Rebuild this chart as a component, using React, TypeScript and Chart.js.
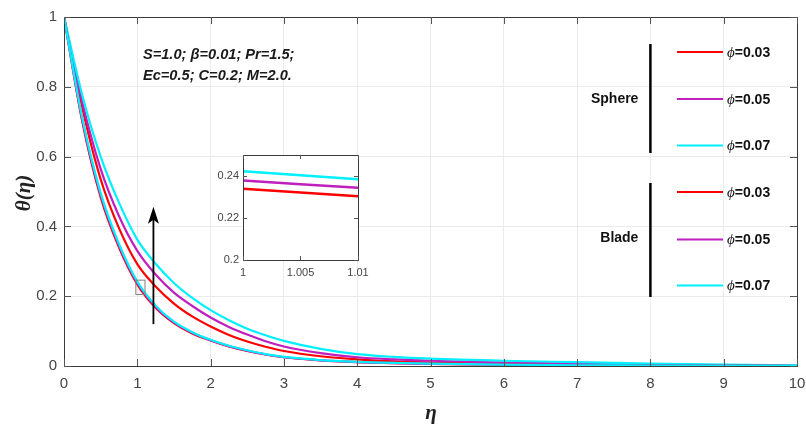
import React, { useEffect, useRef } from "react";
import { Chart, registerables } from "chart.js";
Chart.register(...registerables);

// ---------- data ----------
const eta = [0, 0.25, 0.5, 0.75, 1, 1.25, 1.5, 1.75, 2, 2.25, 2.5, 2.75, 3, 3.5, 4, 4.5, 5, 6, 7, 8, 9, 10];
const sphere003 = [1, 0.74, 0.535, 0.395, 0.292, 0.228, 0.179, 0.142, 0.113, 0.089, 0.07, 0.055, 0.043, 0.028, 0.019, 0.013, 0.01, 0.006, 0.004, 0.002, 0.001, 0.0];
const sphere005 = [1, 0.755, 0.565, 0.43, 0.33, 0.262, 0.21, 0.172, 0.139, 0.112, 0.09, 0.071, 0.056, 0.037, 0.025, 0.019, 0.015, 0.01, 0.007, 0.004, 0.002, 0.001];
const sphere007 = [1, 0.775, 0.6, 0.468, 0.362, 0.293, 0.238, 0.195, 0.16, 0.131, 0.107, 0.088, 0.072, 0.049, 0.034, 0.026, 0.021, 0.015, 0.011, 0.007, 0.004, 0.002];
const blade003 = [1, 0.7, 0.484, 0.34, 0.234, 0.167, 0.123, 0.093, 0.073, 0.056, 0.043, 0.033, 0.025, 0.016, 0.011, 0.008, 0.006, 0.004, 0.002, 0.0015, 0.001, 0.0];
const blade005 = [1, 0.705, 0.49, 0.345, 0.238, 0.17, 0.125, 0.095, 0.074, 0.057, 0.044, 0.033, 0.025, 0.016, 0.011, 0.008, 0.006, 0.004, 0.002, 0.0015, 0.001, 0.0];
const blade007 = [1, 0.71, 0.496, 0.35, 0.242, 0.173, 0.127, 0.097, 0.075, 0.058, 0.045, 0.034, 0.026, 0.017, 0.012, 0.009, 0.007, 0.004, 0.002, 0.0015, 0.001, 0.0];

const insetEta = [1, 1.005, 1.01];
const inset003 = [0.2339, 0.2321, 0.2304];
const inset005 = [0.2379, 0.2361, 0.2344];
const inset007 = [0.2423, 0.2403, 0.2384];

const seriesLabels = ["ϕ=0.03", "ϕ=0.05", "ϕ=0.07"];
const groupLabels = ["Sphere", "Blade"];
const paramLines = ["S=1.0; β=0.01; Pr=1.5;", "Ec=0.5; C=0.2; M=2.0."];
const xLabel = "η";
const yLabel = "θ(η)";

const RED = "#ff0000";
const MAG = "#bf1fbf";
const CYAN = "#00f0ff";

const pts = (xs: number[], ys: number[]) => xs.map((x, i) => ({ x, y: ys[i] }));
const fmt = (v: number | string) => String(Math.round(Number(v) * 10000) / 10000);

const AXIS = "#3a3a3a";
const TICKTXT = "#454545";
const SANS = "'Liberation Sans', Arial, sans-serif";
const SERIF = "'Liberation Serif', 'Times New Roman', serif";

function drawBoxAndTicks(chart: any, len: number) {
  const { ctx, chartArea: a, scales } = chart;
  ctx.save();
  ctx.strokeStyle = AXIS;
  ctx.lineWidth = 1;
  ctx.strokeRect(Math.round(a.left) + 0.5, Math.round(a.top) + 0.5, Math.round(a.right - a.left), Math.round(a.bottom - a.top));
  ctx.strokeStyle = "#555";
  ctx.beginPath();
  scales.x.ticks.forEach((t: any) => {
    const px = Math.round(scales.x.getPixelForValue(t.value)) + 0.5;
    ctx.moveTo(px, a.bottom);
    ctx.lineTo(px, a.bottom - len);
    ctx.moveTo(px, a.top);
    ctx.lineTo(px, a.top + len);
  });
  scales.y.ticks.forEach((t: any) => {
    const py = Math.round(scales.y.getPixelForValue(t.value)) + 0.5;
    ctx.moveTo(a.left, py);
    ctx.lineTo(a.left + len, py);
    ctx.moveTo(a.right, py);
    ctx.lineTo(a.right - len, py);
  });
  ctx.stroke();
  ctx.restore();
}

const mainPlugin = {
  id: "mainDecor",
  afterDraw(chart: any) {
    const { ctx, chartArea: a, scales } = chart;
    const X = (v: number) => scales.x.getPixelForValue(v);
    const Y = (v: number) => scales.y.getPixelForValue(v);
    drawBoxAndTicks(chart, 7);
    ctx.save();

    // zoom rectangle
    ctx.strokeStyle = "#808080";
    ctx.lineWidth = 1;
    ctx.strokeRect(X(0.98), Y(0.246), X(1.105) - X(0.98), Y(0.205) - Y(0.246));

    // arrow
    const ax = X(1.22);
    const y0 = Y(0.12);
    const y1 = Y(0.456);
    ctx.strokeStyle = "#000";
    ctx.lineWidth = 1.8;
    ctx.beginPath();
    ctx.moveTo(ax, y0);
    ctx.lineTo(ax, y1 + 12);
    ctx.stroke();
    ctx.fillStyle = "#000";
    ctx.beginPath();
    ctx.moveTo(ax, y1);
    ctx.lineTo(ax + 5.5, y1 + 17);
    ctx.lineTo(ax, y1 + 13);
    ctx.lineTo(ax - 5.5, y1 + 17);
    ctx.closePath();
    ctx.fill();

    // parameter text
    ctx.fillStyle = "#1a1a1a";
    ctx.font = `italic bold 14.6px ${SANS}`;
    ctx.textBaseline = "middle";
    ctx.textAlign = "left";
    ctx.fillText(paramLines[0], a.left + 79, a.top + 38);
    ctx.fillText(paramLines[1], a.left + 79, a.top + 59);

    // legend groups
    const barX = X(8);
    const groups = [
      { top: 44, bottom: 153, labelY: 99, rows: [52, 99, 145.5], ds: [0, 1, 2] },
      { top: 183, bottom: 297, labelY: 238, rows: [192, 239.5, 285.5], ds: [3, 4, 5] },
    ];
    groups.forEach((g, gi) => {
      ctx.strokeStyle = "#000";
      ctx.lineWidth = 2.5;
      ctx.beginPath();
      ctx.moveTo(barX, g.top);
      ctx.lineTo(barX, g.bottom);
      ctx.stroke();
      ctx.fillStyle = "#111";
      ctx.font = `bold 14px ${SANS}`;
      ctx.textAlign = "right";
      ctx.fillText(groupLabels[gi], barX - 12, g.labelY);
      g.rows.forEach((ry, ri) => {
        const d = chart.data.datasets[g.ds[ri]];
        ctx.strokeStyle = d.borderColor;
        ctx.lineWidth = 2;
        ctx.beginPath();
        ctx.moveTo(677, ry);
        ctx.lineTo(723, ry);
        ctx.stroke();
        const lab: string = d.label;
        ctx.fillStyle = "#111";
        ctx.textAlign = "left";
        ctx.font = `italic 15px ${SERIF}`;
        ctx.fillText(lab.charAt(0), 727, ry + 1);
        const w = ctx.measureText(lab.charAt(0)).width;
        ctx.font = `bold 14px ${SANS}`;
        ctx.fillText(lab.slice(1), 727 + w, ry + 1);
      });
    });

    // axis titles
    ctx.fillStyle = "#222";
    ctx.font = `italic bold 21px ${SERIF}`;
    ctx.textAlign = "center";
    ctx.textBaseline = "middle";
    ctx.fillText(xLabel, 431, 414);
    ctx.save();
    ctx.translate(25, 193);
    ctx.rotate(-Math.PI / 2);
    ctx.fillText(yLabel, 0, 0);
    ctx.restore();
    ctx.restore();
  },
};

const insetPlugin = {
  id: "insetDecor",
  beforeDraw(chart: any) {
    const { ctx, chartArea: a } = chart;
    ctx.save();
    ctx.fillStyle = "#fff";
    ctx.fillRect(a.left, a.top, a.right - a.left, a.bottom - a.top);
    ctx.restore();
  },
  afterDraw(chart: any) {
    drawBoxAndTicks(chart, 4);
  },
};

const fitX = (h: number) => (s: any) => {
  s.height = h;
  s.paddingLeft = 0;
  s.paddingRight = 0;
};
const fitY = (w: number) => (s: any) => {
  s.width = w;
  s.paddingTop = 0;
  s.paddingBottom = 0;
};

export default function App() {
  const mainRef = useRef<HTMLCanvasElement>(null);
  const insetRef = useRef<HTMLCanvasElement>(null);

  useEffect(() => {
    document.body.style.margin = "0";
    const mk = (label: string, ys: number[], color: string, order: number) => ({
      label,
      data: pts(eta, ys),
      borderColor: color,
      backgroundColor: color,
      borderWidth: 2.2,
      pointRadius: 0,
      fill: false,
      cubicInterpolationMode: "monotone" as const,
      order,
    });
    const main = new Chart(mainRef.current!, {
      type: "line",
      data: {
        datasets: [
          mk(seriesLabels[0], sphere003, RED, 5),
          mk(seriesLabels[1], sphere005, MAG, 4),
          mk(seriesLabels[2], sphere007, CYAN, 3),
          mk(seriesLabels[0], blade003, RED, 2),
          mk(seriesLabels[1], blade005, MAG, 1),
          mk(seriesLabels[2], blade007, CYAN, 0),
        ],
      },
      options: {
        animation: false,
        responsive: false,
        maintainAspectRatio: false,
        layout: { padding: { left: 0, right: 9, top: 17, bottom: 0 } },
        plugins: { legend: { display: false }, tooltip: { enabled: false } },
        scales: {
          x: {
            type: "linear",
            min: 0,
            max: 10,
            border: { display: false },
            grid: { color: "#ebebeb", drawTicks: false, lineWidth: 1 },
            ticks: { stepSize: 1, padding: 9, color: TICKTXT, font: { family: SANS, size: 15 }, callback: fmt },
            afterFit: fitX(61),
          },
          y: {
            type: "linear",
            min: 0,
            max: 1,
            border: { display: false },
            grid: { color: "#ebebeb", drawTicks: false, lineWidth: 1 },
            ticks: { stepSize: 0.2, padding: 7, color: TICKTXT, font: { family: SANS, size: 15 }, callback: fmt },
            afterFit: fitY(64),
          },
        },
      },
      plugins: [mainPlugin],
    });

    const mi = (ys: number[], color: string) => ({
      data: pts(insetEta, ys),
      borderColor: color,
      borderWidth: 2.5,
      pointRadius: 0,
      fill: false,
    });
    const inset = new Chart(insetRef.current!, {
      type: "line",
      data: { datasets: [mi(inset007, CYAN), mi(inset005, MAG), mi(inset003, RED)] },
      options: {
        animation: false,
        responsive: false,
        maintainAspectRatio: false,
        layout: { padding: { left: 0, right: 12, top: 10, bottom: 0 } },
        plugins: { legend: { display: false }, tooltip: { enabled: false } },
        scales: {
          x: {
            type: "linear",
            min: 1,
            max: 1.01,
            border: { display: false },
            grid: { display: false, drawTicks: false },
            ticks: { stepSize: 0.005, includeBounds: false, padding: 6, color: TICKTXT, font: { family: SANS, size: 11 }, callback: fmt },
            afterFit: fitX(25),
          },
          y: {
            type: "linear",
            min: 0.2,
            max: 0.25,
            border: { display: false },
            grid: { display: false, drawTicks: false },
            ticks: { stepSize: 0.02, includeBounds: false, padding: 4, color: TICKTXT, font: { family: SANS, size: 11 }, callback: fmt },
            afterFit: fitY(43),
          },
        },
      },
      plugins: [insetPlugin],
    });

    return () => {
      main.destroy();
      inset.destroy();
    };
  }, []);

  return (
    <div style={{ position: "relative", width: 806, height: 427, background: "#fff" }}>
      <canvas ref={mainRef} width={806} height={427} style={{ position: "absolute", left: 0, top: 0, width: 806, height: 427 }} />
      <canvas ref={insetRef} width={170} height={140} style={{ position: "absolute", left: 200, top: 145, width: 170, height: 140 }} />
    </div>
  );
}
